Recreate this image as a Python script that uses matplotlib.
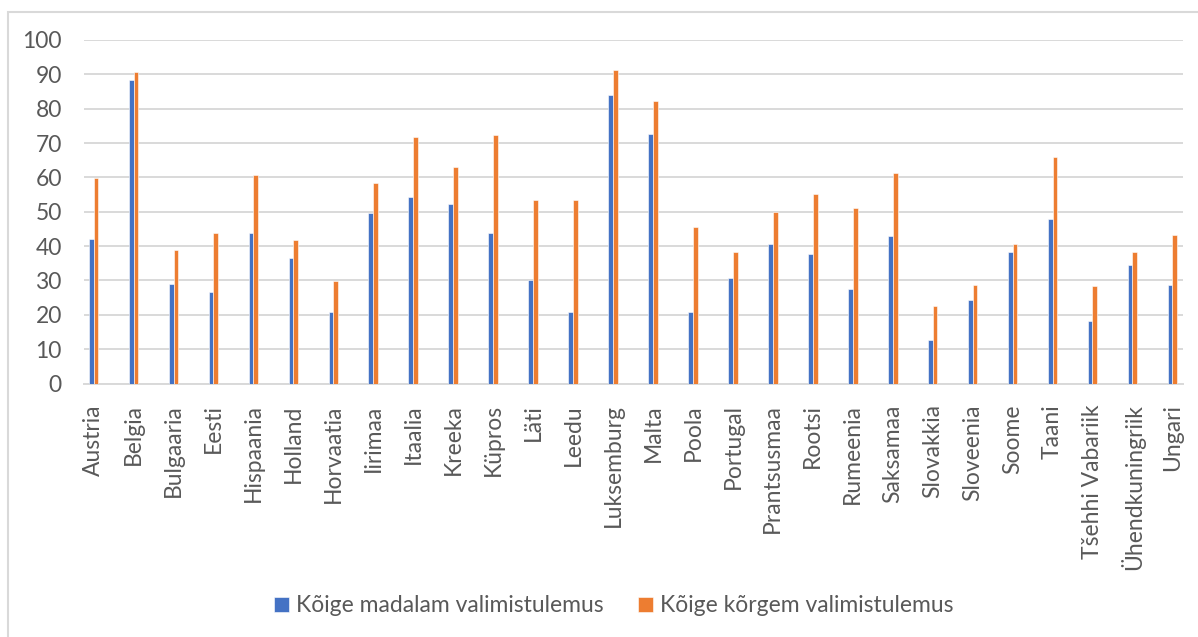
import matplotlib.pyplot as plt
import numpy as np
from matplotlib.patches import Rectangle

countries = ["Austria", "Belgia", "Bulgaaria", "Eesti", "Hispaania", "Holland",
             "Horvaatia", "Iirimaa", "Itaalia", "Kreeka", "Küpros", "Läti", "Leedu",
             "Luksemburg", "Malta", "Poola", "Portugal", "Prantsusmaa", "Rootsi",
             "Rumeenia", "Saksamaa", "Slovakkia", "Sloveenia", "Soome", "Taani",
             "Tšehhi Vabariik", "Ühendkuningriik", "Ungari"]
lowest = [42.2, 88.3, 29.0, 26.6, 43.7, 36.6, 20.7, 49.6, 54.4, 52.4, 43.8, 30.1, 20.8,
          84.1, 72.5, 20.7, 30.6, 40.5, 37.7, 27.5, 42.8, 12.8, 24.4, 38.4, 47.8,
          18.1, 34.5, 28.7]
highest = [59.7, 90.7, 38.8, 43.8, 60.6, 41.7, 29.7, 58.5, 71.7, 63.0, 72.3, 53.5, 53.3,
           91.3, 82.2, 45.5, 38.4, 50.0, 55.1, 51.0, 61.3, 22.5, 28.7, 40.6, 65.9,
           28.5, 38.3, 43.2]

blue = "#4472C4"
orange = "#ED7D31"
grey_text = "#595959"
grid_col = "#D9D9D9"

plt.rcParams['font.family'] = ['Lato', 'DejaVu Sans']

fig = plt.figure(figsize=(11.98, 6.37), dpi=100)
ax = fig.add_axes([84 / 1198, 1 - 383.5 / 637, (1183 - 84) / 1198, 343.5 / 637])

x = np.arange(len(countries))
w = 0.12
ax.bar(x - w / 2, lowest, w, color=blue, edgecolor="white", linewidth=0.4,
       label="Kõige madalam valimistulemus", zorder=3)
ax.bar(x + w / 2, highest, w, color=orange, edgecolor="white", linewidth=0.4,
       label="Kõige kõrgem valimistulemus", zorder=3)

ax.set_ylim(0, 100)
ax.set_xlim(-0.24, len(countries) - 1 + 0.265)
ax.set_yticks(range(0, 101, 10))
ax.set_xticks(x)
ax.set_xticklabels(countries, rotation=90)
ax.grid(axis="y", color=grid_col, linewidth=1.4, zorder=0)
for side in ["top", "right", "left"]:
    ax.spines[side].set_visible(False)
ax.spines["bottom"].set_color(grid_col)
ax.spines["bottom"].set_linewidth(1.4)
ax.tick_params(axis="both", length=0, labelsize=16.5, labelcolor=grey_text)
ax.tick_params(axis="x", pad=15)
ax.tick_params(axis="y", pad=16)

fig.legend(loc="center", bbox_to_anchor=(614 / 1198, 1 - 606 / 637), ncol=2,
           frameon=False, fontsize=16.5, labelcolor=grey_text, handlelength=0.65,
           handleheight=0.65, handletextpad=0.3, columnspacing=1.5)

# chart area border (only left and top edges fall inside the image)
fig.add_artist(Rectangle((8 / 1198, -0.2), 1.2, 1.2 - 11.5 / 637,
                         transform=fig.transFigure, fill=False,
                         edgecolor=grid_col, linewidth=1.5, clip_on=False))

fig.savefig("out.png", dpi=100)
